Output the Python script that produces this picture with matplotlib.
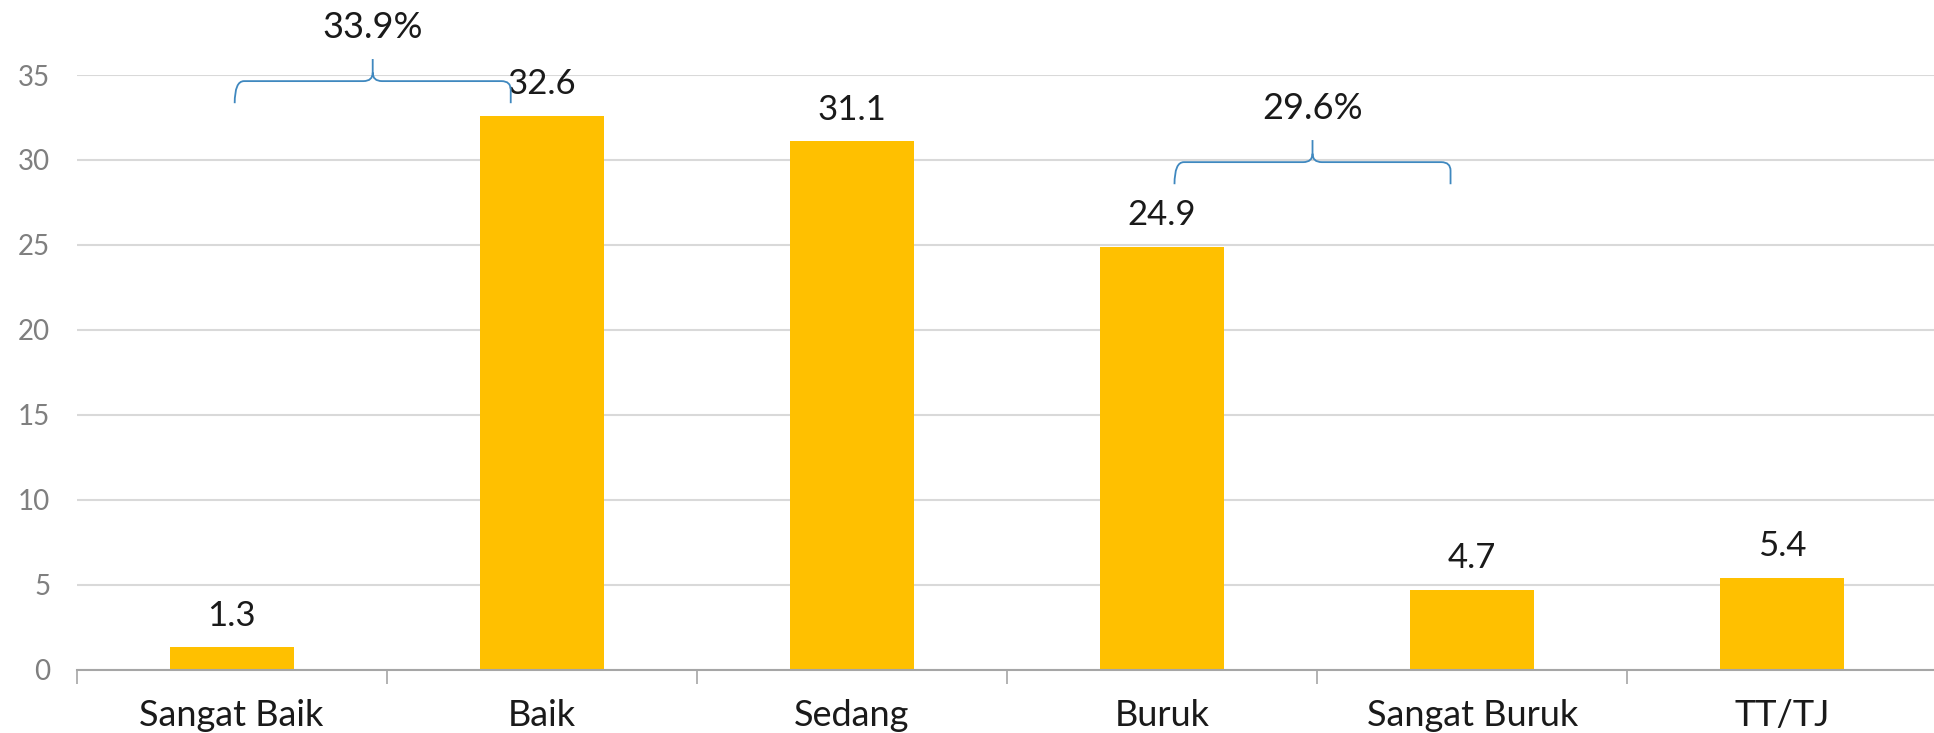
import matplotlib
matplotlib.use("Agg")
import matplotlib.pyplot as plt
from matplotlib.path import Path
from matplotlib.patches import PathPatch
import numpy as np

kategori = ["Sangat Baik", "Baik", "Sedang", "Buruk", "Sangat Buruk", "TT/TJ"]
nilai = [1.3, 32.6, 31.1, 24.9, 4.7, 5.4]
y_ticks = [0, 5, 10, 15, 20, 25, 30, 35]

# kurung kurawal: (indeks awal, indeks akhir) -> jumlah persen
kelompok = [(0, 1), (3, 4)]

plt.rcParams["font.family"] = ["Lato", "DejaVu Sans"]

fig = plt.figure(figsize=(19.34, 7.33), dpi=100)
ax = fig.add_axes([76.5 / 1934, 63.5 / 733, 1861 / 1934, 594.5 / 733])

x = np.arange(len(kategori))
ax.bar(x, nilai, width=0.4, color="#FFC000", zorder=3)

for xi, v in zip(x, nilai):
    ax.annotate(f"{v:.1f}", (xi, v), xytext=(0, 11), textcoords="offset points",
                ha="center", va="bottom", fontsize=25, color="#1a1a1a")

ax.set_xlim(-0.5, len(kategori) - 0.5)
ax.set_ylim(0, 35)
ax.set_yticks(y_ticks)
ax.set_xticks(x)
ax.set_xticklabels(kategori, fontsize=26, color="#1a1a1a")
ax.set_xticks(np.arange(len(kategori)) - 0.5, minor=True)
ax.tick_params(axis="x", which="major", length=0, pad=21)
ax.tick_params(axis="x", which="minor", length=10, width=1.2, color="#a6a6a6")
ax.tick_params(axis="y", length=0, pad=19, labelsize=20, labelcolor="#7f7f7f")

ax.grid(axis="y", color="#d9d9d9", linewidth=1.5, zorder=0)
for s in ["top", "right", "left"]:
    ax.spines[s].set_visible(False)
ax.spines["bottom"].set_color("#a6a6a6")
ax.spines["bottom"].set_linewidth(1.5)
ax.spines["bottom"].set_zorder(4)


def kurung(ax, x0, x1, yb, yh, yt, dx=0.03, dy=0.5):
    xm = (x0 + x1) / 2
    verts = [
        (x0, yb), (x0, yh), (x0 + dx, yh),
        (xm - dx, yh), (xm, yh), (xm, yh + dy), (xm, yt),
        (xm, yh + dy), (xm, yh), (xm + dx, yh),
        (x1 - dx, yh), (x1, yh), (x1, yh - dy), (x1, yb),
    ]
    codes = [
        Path.MOVETO, Path.CURVE3, Path.CURVE3,
        Path.LINETO, Path.CURVE3, Path.CURVE3, Path.LINETO,
        Path.MOVETO, Path.CURVE3, Path.CURVE3,
        Path.LINETO, Path.CURVE3, Path.CURVE3, Path.LINETO,
    ]
    ax.add_patch(PathPatch(Path(verts, codes), fill=False, edgecolor="#3f88bf",
                           linewidth=1.3, clip_on=False, zorder=5))
    return xm


# posisi kurung: geser kiri, geser kanan, dasar kurung
pengaturan = [(0.01, -0.10, 33.34), (0.04, -0.07, 28.57)]
for (i, j), (kiri, kanan, dasar) in zip(kelompok, pengaturan):
    total = sum(nilai[i:j + 1])
    xm = kurung(ax, x[i] + kiri, x[j] + kanan, dasar, dasar + 1.3, dasar + 2.6)
    ax.text(xm, dasar + 4.45, f"{total:.1f}%", ha="center", va="center",
            fontsize=26, color="#1a1a1a", clip_on=False)

fig.savefig("out.png", dpi=100)
